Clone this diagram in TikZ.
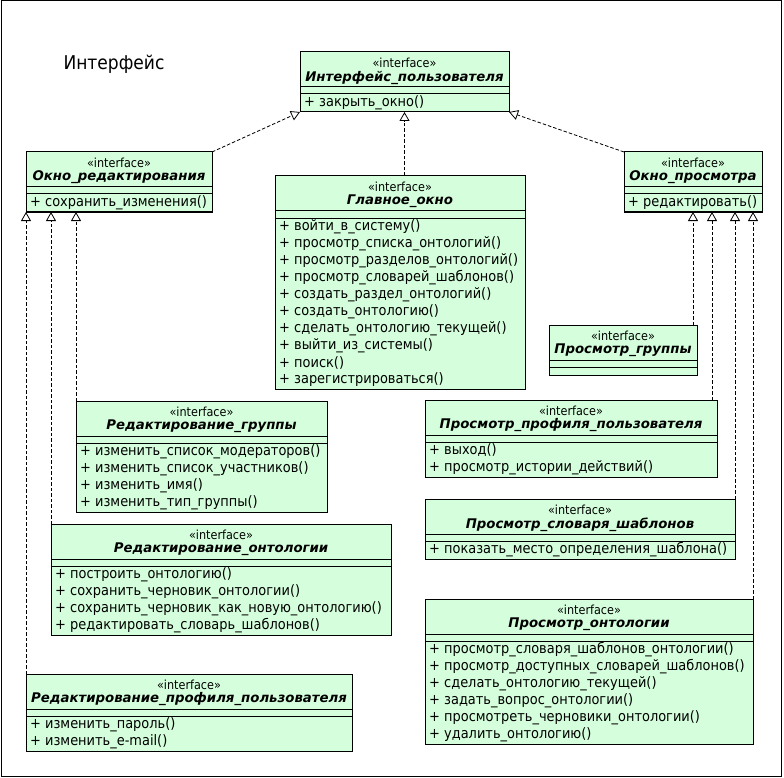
\documentclass[tikz,border=0pt]{standalone}
\usepackage{fontspec}
\setmainfont{DejaVu Sans}
\newfontfamily\narrowfont{DejaVu Sans}[FakeStretch=0.9]
\usetikzlibrary{arrows.meta}

\definecolor{classfill}{RGB}{213,255,220}

\tikzset{
  classbox/.style={draw, fill=classfill, line width=1pt, inner sep=0pt, outer sep=0pt},
  classline/.style={line width=1pt},
  stereo/.style={inner sep=0pt, font=\narrowfont\fontsize{12.5}{14}\selectfont},
  ctitle/.style={inner sep=0pt, font=\fontsize{13.3}{15}\selectfont\bfseries\itshape},
  member/.style={inner sep=0pt, anchor=west, font=\narrowfont\fontsize{14.4}{16}\selectfont},
  realize/.style={line width=0.8pt, dash pattern=on 3.5pt off 2pt,
    -{Triangle[width=10pt,length=9pt,fill=white,line width=0.8pt]}},
}

% #1 name, #2 left, #3 top, #4 right, #5 number of operations, #6 title, #7 operations
\newcommand\umlclass[7]{%
  \pgfmathsetmacro\uheight{#5==0 ? 50 : 43+17*#5}%
  \node[classbox, anchor=north west, minimum width={(#4-#2)*1pt},
        minimum height={\uheight*1pt}] (#1) at (#2,#3) {};
  \draw[classline] (#2,#3+35) -- (#4,#3+35);
  \draw[classline] (#2,#3+42) -- (#4,#3+42);
  \node[stereo] (#1-st) at ({(#2+#4)/2},#3+10.5) {«interface»};
  \node[ctitle] (#1-t) at ({(#2+#4)/2},#3+25.5) {#6};
  \foreach \op [count=\i] in {#7} {
    \node[member] (#1-m\i) at (#2+4,{#3+42+17*\i-8.5}) {\op};
  }
}

\begin{document}
\begin{tikzpicture}[x=1pt,y=-1pt]
  \useasboundingbox (0,0) rectangle (784,778);
  \draw[line width=1pt] (1,1) rectangle (781,776);
  \node[inner sep=0pt, font=\narrowfont\fontsize{19}{22}\selectfont] (pkg) at (114,64) {Интерфейс};

  \umlclass{ui}{300}{52}{509}{1}{Интерфейс\_пользователя}{+ закрыть\_окно()}
  \umlclass{edit}{26}{152}{212}{1}{Окно\_редактирования}{+ сохранить\_изменения()}
  \umlclass{main}{275}{176}{525}{10}{Главное\_окно}{%
    + войти\_в\_систему(),
    + просмотр\_списка\_онтологий(),
    + просмотр\_разделов\_онтологий(),
    + просмотр\_словарей\_шаблонов(),
    + создать\_раздел\_онтологий(),
    + создать\_онтологию(),
    + сделать\_онтологию\_текущей(),
    + выйти\_из\_системы(),
    + поиск(),
    + зарегистрироваться()}
  \umlclass{view}{624}{152}{762}{1}{Окно\_просмотра}{+ редактировать()}
  \umlclass{vgroup}{549}{325}{697}{0}{Просмотр\_группы}{}
  \umlclass{egroup}{76}{401}{327}{4}{Редактирование\_группы}{%
    + изменить\_список\_модераторов(),
    + изменить\_список\_участников(),
    + изменить\_имя(),
    + изменить\_тип\_группы()}
  \umlclass{vprofile}{425}{400}{717}{2}{Просмотр\_профиля\_пользователя}{%
    + выход(),
    + просмотр\_истории\_действий()}
  \umlclass{vdict}{425}{499}{735}{1}{Просмотр\_словаря\_шаблонов}{%
    + показать\_место\_определения\_шаблона()}
  \umlclass{eonto}{51}{524}{391}{4}{Редактирование\_онтологии}{%
    + построить\_онтологию(),
    + сохранить\_черновик\_онтологии(),
    + сохранить\_черновик\_как\_новую\_онтологию(),
    + редактировать\_словарь\_шаблонов()}
  \umlclass{vonto}{425}{599}{753}{6}{Просмотр\_онтологии}{%
    + просмотр\_словаря\_шаблонов\_онтологии(),
    + просмотр\_доступных\_словарей\_шаблонов(),
    + сделать\_онтологию\_текущей(),
    + задать\_вопрос\_онтологии(),
    + просмотреть\_черновики\_онтологии(),
    + удалить\_онтологию()}
  \umlclass{eprofile}{26}{674}{352}{2}{Редактирование\_профиля\_пользователя}{%
    + изменить\_пароль(),
    + изменить\_e-mail()}

  % realizations of the top interface
  \draw[realize] (edit.north east) -- (ui.south west);
  \draw[realize] (ui.south |- main.north) -- (ui.south);
  \draw[realize] (view.north west) -- (ui.south east);

  % realizations of the editing window
  \draw[realize] (egroup.north west) -- (egroup.north west |- edit.south);
  \draw[realize] (eonto.north west) -- (eonto.north west |- edit.south);
  \draw[realize] (eprofile.north west) -- (eprofile.north west |- edit.south);

  % realizations of the viewing window
  \draw[realize] ([xshift=-4pt]vgroup.north east) -- ([xshift=-4pt]vgroup.north east |- view.south);
  \draw[realize] ([xshift=-5pt]vprofile.north east) -- ([xshift=-5pt]vprofile.north east |- view.south);
  \draw[realize] (vdict.north east) -- (vdict.north east |- view.south);
  \draw[realize] (vonto.north east) -- (vonto.north east |- view.south);
\end{tikzpicture}
\end{document}
